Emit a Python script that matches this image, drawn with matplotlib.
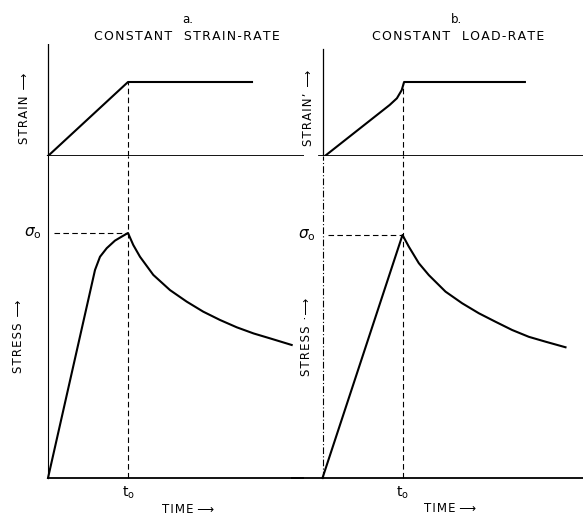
import matplotlib
matplotlib.use("Agg")
import matplotlib.pyplot as plt

# normalised time (t / t0), strain (eps / eps0) and stress (sigma / sigma0)
t_strain_a = [0, 1.0, 2.55]
strain_a = [0, 1.0, 1.0]

t_stress_a = [0, 0.504, 0.5875, 0.65, 0.734, 0.8375, 0.941, 1.0,
              1.066, 1.15, 1.316, 1.525, 1.733, 1.94, 2.15, 2.36, 2.57, 2.775, 3.046]
stress_a = [0, 0.728, 0.849, 0.903, 0.938, 0.969, 0.989, 1.0,
            0.951, 0.903, 0.829, 0.767, 0.72, 0.679, 0.645, 0.615, 0.59, 0.570, 0.543]

t_strain_b = [0.03, 0.84, 0.93, 0.99, 1.02, 2.53]
strain_b = [0, 0.69, 0.78, 0.89, 1.0, 1.0]

t_stress_b = [0, 1.0, 1.079, 1.204, 1.329, 1.5375, 1.746, 1.954, 2.1625, 2.371, 2.579, 2.7875, 3.0375]
stress_b = [0, 1.0, 0.952, 0.884, 0.835, 0.767, 0.719, 0.678, 0.643, 0.609, 0.581, 0.561, 0.538]

panel_letters = ["a.", "b."]
panel_titles = ["CONSTANT  STRAIN-RATE", "CONSTANT  LOAD-RATE"]

W, H = 583, 516
fig = plt.figure(figsize=(W / 100, H / 100), dpi=100)


def spaced(s):
    return "\u200a".join(s)


def place(x0, sx, xlim, y0, sy, ylim):
    # axes rect from pixel origin and pixel-per-unit scale
    left = x0 + xlim[0] * sx
    width = (xlim[1] - xlim[0]) * sx
    bottom = y0 - ylim[0] * sy
    top = y0 - ylim[1] * sy
    ax = fig.add_axes([left / W, 1 - bottom / H, width / W, (bottom - top) / H])
    ax.set_xlim(*xlim)
    ax.set_ylim(*ylim)
    ax.axis("off")
    return ax


lw_curve = 1.5
lw_axis = 1.3
fs = 8.5
dash = (0, (5, 3))

panels = [
    dict(x0=48, sy_strain=74, y0_strain=156, sy_stress=245, y0_stress=478,
         xlim=(-0.4, 3.2), t_eps=t_strain_a, eps=strain_a, t_sig=t_stress_a, sig=stress_a,
         vstyle="-", strain_lab="STRAIN \u27f6", stress_lab="STRESS \u27f6"),
    dict(x0=322.5, sy_strain=74, y0_strain=156, sy_stress=243, y0_stress=478,
         xlim=(-0.4, 3.25), t_eps=t_strain_b, eps=strain_b, t_sig=t_stress_b, sig=stress_b,
         vstyle=(0, (6, 2, 1, 2)), strain_lab="STRAIN\u02bc \u27f6", stress_lab="STRESS \u00b7\u27f6"),
]

for i, p in enumerate(panels):
    x0 = p["x0"]
    top_strain = 1.52
    ax_e = place(x0, 80, p["xlim"], p["y0_strain"], p["sy_strain"], (0, top_strain))
    top_stress = (p["y0_stress"] - p["y0_strain"]) / p["sy_stress"]
    ax_s = place(x0, 80, p["xlim"], p["y0_stress"], p["sy_stress"], (-0.15, top_stress))

    # strain part
    ax_e.plot([0 if i == 0 else -0.05, p["xlim"][1]], [0, 0], color="black", lw=lw_axis)
    ax_e.plot([0, 0], [0, top_strain - (0.08 if i else 0)], color="black", lw=0.9)
    ax_e.plot(p["t_eps"], p["eps"], color="black", lw=lw_curve)
    ax_e.plot([1, 1], [0, 1], color="black", lw=0.8, ls=dash)

    # stress part
    ax_s.plot([p["xlim"][0] if i else 0, p["xlim"][1]], [0, 0], color="black", lw=lw_axis)
    ax_s.plot([0, 0], [0, top_stress], color="black", lw=0.8, ls=p["vstyle"])
    ax_s.plot(p["t_sig"], p["sig"], color="black", lw=lw_curve)
    ax_s.plot([1, 1], [0, top_stress], color="black", lw=0.8, ls=dash)
    ax_s.plot([0.07, 1], [1, 1], color="black", lw=0.8, ls=dash)

    ax_s.text(-0.19, 1.0, r"$\sigma_\mathregular{o}$", ha="center", va="center", fontsize=11)
    ax_s.text(1.0, -0.06, r"$\mathregular{t_o}$", ha="center", va="center", fontsize=10)
    ax_s.text(1.75 if i == 0 else 1.6, -0.127, spaced("TIME") + " \u27f6",
              ha="center", va="center", fontsize=fs)

    ax_e.text(-0.29 if i == 0 else -0.17, 0.65, spaced(p["strain_lab"]), rotation=90,
              ha="center", va="center", fontsize=fs)
    ax_s.text(-0.37 if i == 0 else -0.2, 0.58, spaced(p["stress_lab"]), rotation=90,
              ha="center", va="center", fontsize=fs)

    ax_e.text(1.75 if i == 0 else 1.68, 1.85, panel_letters[i], ha="center", va="center", fontsize=fs)
    ax_e.text(1.73 if i == 0 else 1.69, 1.62, spaced(panel_titles[i]), ha="center", va="center", fontsize=9)

fig.savefig("out.png", dpi=100)
